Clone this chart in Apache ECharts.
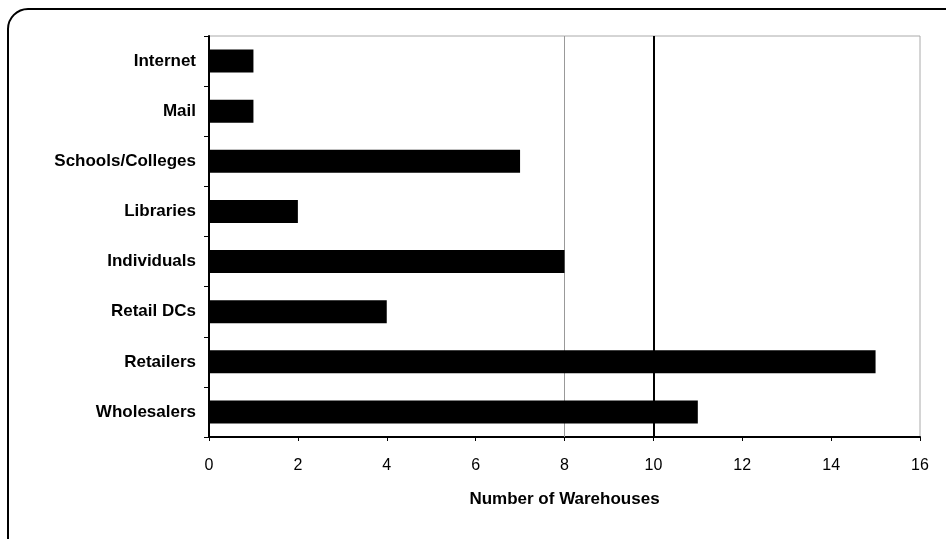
<!DOCTYPE html>
<html>
<head>
<meta charset="utf-8">
<script src="https://cdn.jsdelivr.net/npm/echarts@6/dist/echarts.min.js"></script>
<style>
  html, body { margin: 0; padding: 0; background: #fff; }
  #chart { width: 946px; height: 539px; }
</style>
</head>
<body>
<div id="chart"></div>
<script>
// bottom to top, as drawn on the category axis
const categories = ['Wholesalers', 'Retailers', 'Retail DCs', 'Individuals', 'Libraries', 'Schools/Colleges', 'Mail', 'Internet']
const warehouses = [11, 15, 4, 8, 2, 7, 1, 1]
const xTicks = [0, 2, 4, 6, 8, 10, 12, 14, 16]
// the two vertical reference lines seen in the plot
const refLines = [8, 10]

const chart = echarts.init(document.getElementById('chart'))

const option = {
  animation: false,
  textStyle: { fontFamily: 'Liberation Sans, Arial, sans-serif' },
  graphic: [{
    type: 'rect',
    shape: { x: 8, y: 9, width: 980, height: 580, r: 20 },
    style: { fill: 'none', stroke: '#000', lineWidth: 2 },
    silent: true
  }],
  grid: {
    left: 209,
    right: 26,
    top: 36,
    bottom: 102,
    show: true,
    borderColor: '#aaa',
    borderWidth: 1
  },
  xAxis: {
    type: 'value',
    min: xTicks[0],
    max: xTicks[xTicks.length - 1],
    interval: 2,
    name: 'Number of Warehouses',
    nameLocation: 'middle',
    nameGap: 54,
    nameTextStyle: { fontSize: 17, fontWeight: 'bold', color: '#000' },
    axisLine: { show: true, lineStyle: { color: '#000', width: 2 } },
    axisTick: { show: true, length: 4, lineStyle: { color: '#000' } },
    axisLabel: { fontSize: 16, color: '#000', margin: 21 },
    splitLine: { show: false }
  },
  yAxis: {
    type: 'category',
    data: categories,
    axisLine: { show: true, lineStyle: { color: '#000', width: 2 } },
    axisTick: { show: true, length: 5, lineStyle: { color: '#000' } },
    axisLabel: { fontSize: 17, fontWeight: 'bold', color: '#000', margin: 13 },
    splitLine: { show: false }
  },
  series: [{
    type: 'bar',
    data: warehouses,
    barWidth: 23,
    z: 3,
    itemStyle: { color: '#000' },
    markLine: {
      silent: true,
      z: 1,
      symbol: 'none',
      label: { show: false },
      data: [
        { xAxis: refLines[0], lineStyle: { color: '#999', type: 'solid', width: 1 } },
        { xAxis: refLines[1], lineStyle: { color: '#000', type: 'solid', width: 2 } }
      ]
    }
  }]
}

chart.setOption(option, true)
window.addEventListener('resize', () => {
  chart.resize()
})
</script>
</body>
</html>
